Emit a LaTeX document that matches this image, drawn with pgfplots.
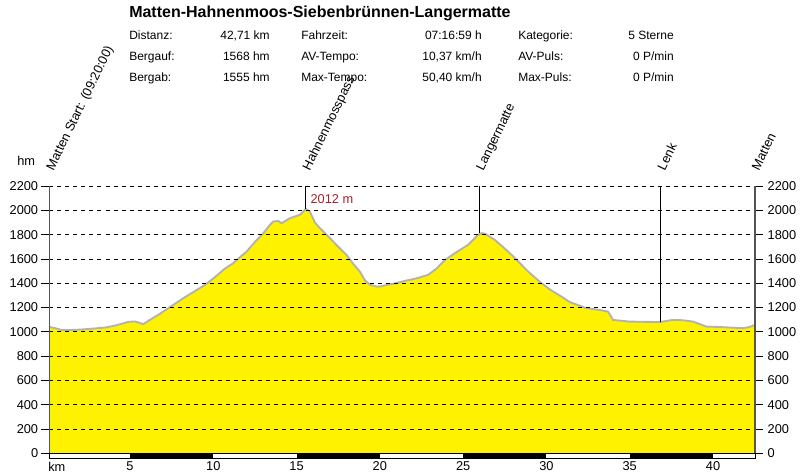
\documentclass[border=0pt]{standalone}
\usepackage{fontspec}
\setmainfont{Liberation Sans}
\usepackage{pgfplots}
\pgfplotsset{compat=1.18}
\usetikzlibrary{calc}
\definecolor{prof}{RGB}{178,178,178}
\definecolor{axgray}{RGB}{85,85,85}
\definecolor{peakred}{RGB}{170,30,40}
\newcommand{\lab}{\fontsize{9.6}{11}\selectfont}
\newcommand{\st}{\fontsize{9}{11}\selectfont}

\pgfplotstableread{
km elev
0.17 1040
0.5 1030
0.9 1015
1.5 1015
2.2 1020
2.9 1028
3.5 1035
4.1 1051
4.6 1070
4.9 1082
5.3 1085
5.6 1072
5.8 1063
6.1 1090
6.7 1140
7.3 1194
7.8 1240
8.3 1285
8.9 1335
9.5 1386
10.1 1450
10.7 1520
11.2 1565
11.6 1614
12.0 1660
12.5 1740
13.0 1810
13.4 1880
13.6 1908
13.9 1912
14.1 1894
14.6 1935
15.2 1963
15.56 2012
15.8 1990
16.1 1900
16.4 1853
17.0 1771
17.5 1700
18.0 1633
18.4 1560
18.8 1496
19.1 1425
19.4 1388
19.8 1372
20.1 1375
20.4 1386
20.9 1398
21.5 1419
22.2 1440
22.9 1469
23.4 1520
23.9 1590
24.5 1647
25.3 1716
25.9 1798
26.1 1812
26.3 1808
26.9 1757
27.7 1661
28.3 1580
28.9 1496
29.7 1400
30.3 1340
30.9 1290
31.4 1245
31.7 1230
32.4 1194
33.2 1180
33.7 1166
34.0 1098
35.0 1084
36.8 1080
37.6 1098
38.2 1095
38.8 1084
39.6 1043
40.3 1040
41.0 1035
41.8 1030
42.2 1040
42.52 1057
}\profile

\begin{document}
\begin{tikzpicture}
\useasboundingbox (-37.125pt,-16.275pt) rectangle (562.875pt,339.975pt);
\begin{axis}[
  at={(0pt,0pt)}, anchor=south west,
  scale only axis, width=529.125pt, height=200.475pt,
  xmin=0.17, xmax=42.52, ymin=0, ymax=2200,
  clip=false, axis on top,
  separate axis lines,
  x axis line style={draw=none},
  y axis line style={draw=axgray, line width=1.4pt},
  ytick={0,200,...,2200},
  xtick={5,10,...,40},
  scaled y ticks=false,
  /pgf/number format/.cd, 1000 sep={}, assume math mode=true, /pgfplots/.cd,
  tick align=outside, major tick length=6pt,
  xtick style={draw=none},
  ytick style={draw=black, line width=0.6pt},
  ytick pos=both, yticklabel pos=left,
  ymajorgrids, grid style={black, dash pattern=on 3pt off 3pt, line width=0.6pt},
  tick label style={font=\lab},
  xticklabel style={yshift=3pt},
  yticklabel style={xshift=1pt},
]
\addplot[fill=yellow, draw=none] table[x=km, y=elev] {\profile} \closedcycle;
\addplot[draw=prof, line width=1.4pt] table[x=km, y=elev] {\profile};
% waypoint lines
\addplot[black, line width=0.6pt] coordinates {(15.56,2012) (15.56,2200)};
\addplot[black, line width=0.6pt] coordinates {(25.97,1812) (25.97,2200)};
\addplot[black, line width=0.6pt] coordinates {(36.87,1080) (36.87,2200)};
% km scale bar
\draw[black, line width=0.6pt, fill=white] (axis cs:0.17,-40) rectangle (axis cs:42.52,0);
\fill[black] (axis cs:5,-40) rectangle (axis cs:10,0);
\fill[black] (axis cs:15,-40) rectangle (axis cs:20,0);
\fill[black] (axis cs:25,-40) rectangle (axis cs:30,0);
\fill[black] (axis cs:35,-40) rectangle (axis cs:40,0);
% labels
\node[font=\lab, text=peakred, anchor=west] at (axis cs:15.56,2095) {2012 m};
\node[font=\lab, rotate=64, anchor=base west] at ($(axis cs:0.17,2200)+(1.5pt,8pt)$) {Matten Start: (09:20:00)};
\node[font=\lab, rotate=64, anchor=base west] at ($(axis cs:15.56,2200)+(1.5pt,8pt)$) {Hahnenmosspass};
\node[font=\lab, rotate=64, anchor=base west] at ($(axis cs:25.97,2200)+(1.5pt,8pt)$) {Langermatte};
\node[font=\lab, rotate=64, anchor=base west] at ($(axis cs:36.87,2200)+(1.5pt,8pt)$) {Lenk};
\node[font=\lab, rotate=64, anchor=base west] at ($(axis cs:42.52,2200)+(1.5pt,8pt)$) {Matten};
\end{axis}
\begin{axis}[
  at={(0pt,0pt)}, anchor=south west,
  scale only axis, width=529.125pt, height=200.475pt,
  xmin=0.17, xmax=42.52, ymin=0, ymax=2200,
  hide x axis,
  axis y line*=right,
  y axis line style={draw=none},
  ytick={0,200,...,2200},
  scaled y ticks=false,
  /pgf/number format/.cd, 1000 sep={}, assume math mode=true, /pgfplots/.cd,
  tick align=outside, major tick length=6pt,
  ytick style={draw=none},
  yticklabel pos=right,
  tick label style={font=\lab},
  yticklabel style={xshift=0pt},
]
\addplot[draw=none] coordinates {(1,0)};
\end{axis}
\begin{scope}[shift={(-37.125pt,339.975pt)}, x=0.75pt, y=-0.75pt]
\node[anchor=base west, inner sep=0pt, font=\fontsize{12}{14}\selectfont\bfseries] at (129,17.5) {Matten-Hahnenmoos-Siebenbrünnen-Langermatte};
\node[anchor=base west, inner sep=0pt, font=\st] at (129,40) {Distanz:};
\node[anchor=base west, inner sep=0pt, font=\st] at (129,61) {Bergauf:};
\node[anchor=base west, inner sep=0pt, font=\st] at (129,82) {Bergab:};
\node[anchor=base east, inner sep=0pt, font=\st] at (270,40) {42,71 km};
\node[anchor=base east, inner sep=0pt, font=\st] at (270,61) {1568 hm};
\node[anchor=base east, inner sep=0pt, font=\st] at (270,82) {1555 hm};
\node[anchor=base west, inner sep=0pt, font=\st] at (301,40) {Fahrzeit:};
\node[anchor=base west, inner sep=0pt, font=\st] at (301,61) {AV-Tempo:};
\node[anchor=base west, inner sep=0pt, font=\st] at (301,82) {Max-Tempo:};
\node[anchor=base east, inner sep=0pt, font=\st] at (482,40) {07:16:59 h};
\node[anchor=base east, inner sep=0pt, font=\st] at (482,61) {10,37 km/h};
\node[anchor=base east, inner sep=0pt, font=\st] at (482,82) {50,40 km/h};
\node[anchor=base west, inner sep=0pt, font=\st] at (518,40) {Kategorie:};
\node[anchor=base west, inner sep=0pt, font=\st] at (518,61) {AV-Puls:};
\node[anchor=base west, inner sep=0pt, font=\st] at (518,82) {Max-Puls:};
\node[anchor=base east, inner sep=0pt, font=\st] at (674,40) {5 Sterne};
\node[anchor=base east, inner sep=0pt, font=\st] at (674,61) {0 P/min};
\node[anchor=base east, inner sep=0pt, font=\st] at (674,82) {0 P/min};
\node[anchor=base west, inner sep=0pt, font=\lab] at (17,166) {hm};
\node[anchor=base west, inner sep=0pt, font=\lab] at (48,471) {km};
\end{scope}
\end{tikzpicture}
\end{document}
